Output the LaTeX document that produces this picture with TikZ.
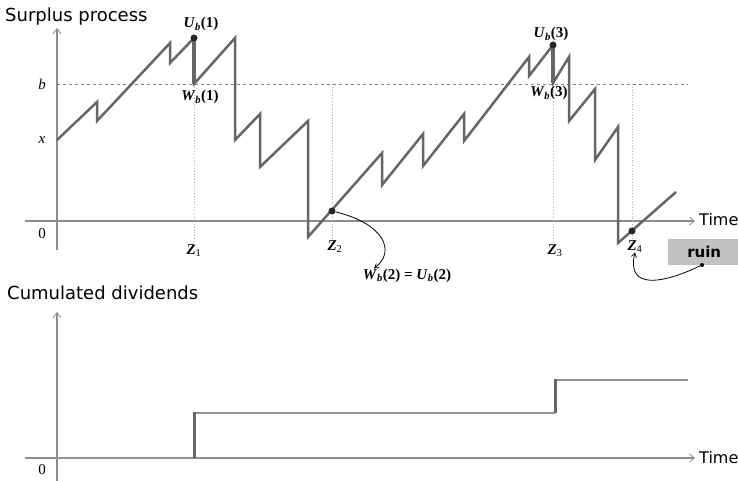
\documentclass[tikz,border=0pt]{standalone}
\usepackage{fontspec}
\setmainfont{Liberation Serif}
\newfontfamily\verdfont{DejaVu Sans}
\usetikzlibrary{arrows.meta}

\definecolor{axisgray}{gray}{0.55}
\definecolor{pathgray}{gray}{0.4}
\definecolor{boxgray}{gray}{0.76}

% bold italic label U_b(k), W_b(k)
\newcommand{\ubw}[2]{\textbf{\textit{#1}\textsubscript{\textit{b}}(#2)}}
\newcommand{\zlab}[1]{\textbf{\textit{Z}}\textsubscript{#1}}

\begin{document}
\begin{tikzpicture}[x=1pt,y=-1pt,
    axisline/.style={draw=axisgray,line width=1.5pt},
    axisarrow/.style={axisline,-{Straight Barb[length=5pt,width=8pt,line width=0.8pt]}},
    pathline/.style={draw=pathgray,line width=2.5pt,line join=miter},
    jumpline/.style={draw=pathgray,line width=3.2pt},
    divline/.style={draw=gray!85,line width=2.8pt},
    divjump/.style={draw=pathgray,line width=3pt},
    bline/.style={draw=gray,line width=0.8pt,dash pattern=on 3pt off 3pt},
    zline/.style={draw=gray!60,line width=0.8pt,dotted},
    curvearrow/.style={draw=black,line width=0.8pt,-{Straight Barb[length=4pt,width=5pt]}},
    dot/.style={circle,fill=black!85,inner sep=0pt,minimum size=7pt},
    smalldot/.style={circle,fill=black,inner sep=0pt,minimum size=4pt},
    lab/.style={inner sep=0pt,anchor=base,font=\fontsize{15}{17}\selectfont},
    axlab/.style={inner sep=0pt,font=\fontsize{15}{17}\selectfont},
    title/.style={inner sep=0pt,anchor=base west,font=\verdfont\fontsize{18}{20}\selectfont},
    timelab/.style={inner sep=0pt,anchor=west,font=\verdfont\fontsize{16}{18}\selectfont}]
  \useasboundingbox (0,0) rectangle (738,481);
  \def\yb{84} \def\yzero{221} \def\ydiv{458}

  % surplus process panel
  \node[title] (sp) at (5,22) {Surplus process};
  \draw[axisarrow] (57,250) -- (57,28);
  \draw[axisarrow] (25,\yzero) -- (695,\yzero);
  \node[timelab] (timeA) at (699,220) {Time};
  \draw[bline] (57,\yb) -- (688,\yb);

  \node[axlab] (blab) at (42,\yb) {\textit{b}};
  \node[axlab] (xlab) at (42,140) {\textit{x}};
  \node[axlab] (zeroA) at (42,234) {0};

  \coordinate (w1) at (194,\yb);
  \coordinate (w2) at (332,\yb);
  \coordinate (w3) at (553,\yb);
  \coordinate (w4) at (632,\yb);

  \node[lab] (z1) at (194,254) {\zlab{1}};
  \node[lab] (z2) at (335,250) {\zlab{2}};
  \node[lab] (z3) at (555,254) {\zlab{3}};
  \node[lab] (z4) at (635,250) {\zlab{4}};

  \draw[zline] (w1) -- (w1 |- z1.north);
  \draw[zline] (w2) -- (w2 |- z2.north);
  \draw[zline] (w3) -- (w3 |- z3.north);
  \draw[zline] (w4) -- (w4 |- z4.north);

  \draw[pathline] (57,140) -- (97,102) -- (97,121) -- (170,43) -- (170,63)
    -- (194,38) -- (194,84) -- (235,38) -- (235,140) -- (260,114) -- (260,167)
    -- (308,121) -- (308,237) -- (382,153) -- (382,185) -- (423,134) -- (423,166)
    -- (464,114) -- (464,141) -- (529,57) -- (529,76) -- (553,45) -- (553,83)
    -- (569,57) -- (569,121) -- (595,89) -- (595,160) -- (618,127) -- (618,243)
    -- (676,192);
  \draw[jumpline] (194,38) -- (194,84);
  \draw[jumpline] (553,45) -- (553,83);

  \node[dot] (d1) at (194,38) {};
  \node[dot] (d2) at (332,211) {};
  \node[dot] (d3) at (553,45) {};
  \node[dot] (d4) at (632,231) {};

  \node[lab] (ub1) at (201,28) {\ubw{U}{1}};
  \node[lab] (wb1) at (200,101) {\ubw{W}{1}};
  \node[lab] (ub3) at (551,38) {\ubw{U}{3}};
  \node[lab] (wb3) at (549,97) {\ubw{W}{3}};
  \node[lab] (wb2) at (407,279) {\textbf{\textit{W}\textsubscript{\textit{b}}(2) = \textit{U}\textsubscript{\textit{b}}(2)}};

  \draw[curvearrow] (d2) .. controls (385,224) and (396,252) .. ([xshift=-33pt]wb2.north);

  \node[fill=boxgray,inner sep=0pt,minimum width=72pt,minimum height=26pt,anchor=west,
    font=\verdfont\bfseries\fontsize{15}{17}\selectfont] (ruin) at (668,252) {ruin};
  \node[smalldot] (rdot) at (702,265) {};
  \draw[curvearrow] (rdot) .. controls (662,284) and (626,290) .. (z4.south);

  % cumulated dividends panel
  \node[title] (cd) at (7,299) {Cumulated dividends};
  \draw[axisarrow] (57,481) -- (57,312);
  \draw[axisarrow] (25,\ydiv) -- (695,\ydiv);
  \node[timelab] (timeB) at (699,458) {Time};
  \node[axlab] (zeroB) at (42,470) {0};

  \draw[divline] (57,\ydiv) -- (194,\ydiv) (194,413) -- (555,413) (555,380) -- (688,380);
  \draw[divjump] (194,\ydiv) -- (194,412) (555,413) -- (555,379);
\end{tikzpicture}
\end{document}
